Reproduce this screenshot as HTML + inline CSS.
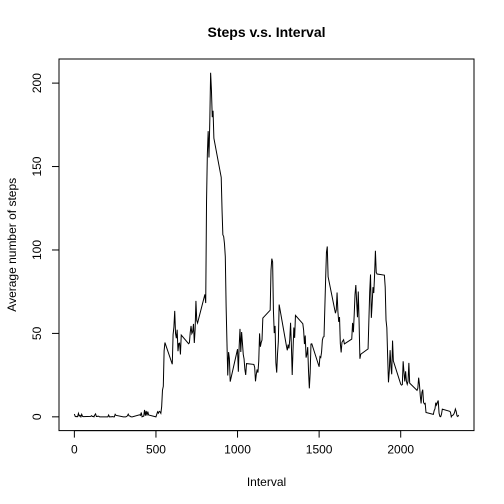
<!DOCTYPE html>
<html><head><meta charset="utf-8"><style>body{margin:0;background:#fff}svg{display:block;font-family:"Liberation Sans",Arial,sans-serif}</style></head>
<body>
<svg id="chart" width="504" height="504"></svg>
<script>
const xTicks=[0,500,1000,1500,2000];
const yTicks=[0,50,100,150,200];
const steps=[
1.7,0.3,0.1,0.2,0.1,2.1,0.5,0.9,0,1.5,0.3,0.1,
0.3,0.7,0.2,0.3,0,1.1,1.8,0.2,0.2,0.4,0.3,0,
0,0,1.1,0,0,0.1,0,0.2,0,0,1.5,0.9,
0,0,0,0,0.2,0.6,1.6,0.6,0.5,0.1,0,0,
1.2,0.9,2.6,0,0.3,0.4,4.1,0.7,3.5,0.8,3.1,1.1,
0,1.5,3,2.2,3.3,3,2.1,6.1,16,18.3,39.5,44.5,
31.5,49.3,53.8,63.5,50,47.1,52.2,39.3,44,44.2,37.4,49,
43.8,44.4,50.5,54.5,49.9,51,55.7,44.3,52.3,69.5,57.8,56.2,
73.4,68.2,129.4,157.5,171.2,155.4,177.3,206.2,195.9,179.6,183.4,167,
143.5,124,109.1,108.1,103.7,96,66.2,45.2,24.8,38.8,35,21.1,
40.6,27,42.4,52.7,38.9,50.8,44.3,37.4,34.7,28.3,25.1,31.9,
31.4,29.7,21.3,25.5,28.4,26.5,33.4,50,42,44.6,46,59.2,
63.9,87.7,94.8,92.8,63.4,50.2,54.5,32.4,26.5,37.7,45.1,67.3,
42.3,39.9,43.3,41,46.2,56.4,42.8,25.1,40,53.5,47.3,60.8,
55.8,52,43.6,48.7,35.5,37.5,41.8,27.5,17.1,26.1,43.6,43.8,
30,36.1,35.5,38.8,46,47.8,48.1,65.3,82.9,98.7,102.1,84,
62.1,64.1,74.5,63.2,56.9,59.8,43.9,38.6,44.7,45.5,46.2,43.7,
46.6,56.3,50.7,61.2,73.4,79,68.9,59.7,75.1,56.5,34.8,37.5,
40.7,58,74.7,85.3,59.3,67.8,77.7,74.2,85.3,99.5,86.6,85.6,
84.9,77.8,58,53.4,36.3,20.7,27.4,40,30.2,25.5,45.7,33.5,
19.6,19,19.3,33.3,26.8,21.2,27.3,21.3,19.5,21.3,32.3,20.2,
15.9,17.2,23.5,19.2,12.5,8,14.7,16.3,8.7,7.8,8.1,2.6,
1.5,3.7,4.8,8.5,7.1,8.7,9.8,2.2,0.3,0.1,1.6,4.6,
3.3,2.8,0,0.8,1,1.6,2.6,4.7,3.3,0.6,0.2,1.1];
const intervals=steps.map((_,i)=>Math.floor(i/12)*100+(i%12)*5);

const NS="http://www.w3.org/2000/svg";
const svg=document.getElementById('chart');
const L=59,R=474,T=59,B=430.6;
const x0=Math.min(...intervals),x1=Math.max(...intervals),y0=0,y1=Math.max(...steps);
const xmin=x0-(x1-x0)*0.04,xmax=x1+(x1-x0)*0.04,ymin=y0-(y1-y0)*0.04,ymax=y1+(y1-y0)*0.04;
const sx=v=>L+(v-xmin)/(xmax-xmin)*(R-L);
const sy=v=>B-(v-ymin)/(ymax-ymin)*(B-T);
function mk(tag,attrs,text){const e=document.createElementNS(NS,tag);for(const k in attrs)e.setAttribute(k,attrs[k]);if(text!==undefined)e.textContent=text;svg.appendChild(e);return e;}

let e=mk('rect',{x:L,y:T,width:R-L,height:B-T,fill:'none',stroke:'#000','stroke-width':1});



const d=intervals.map((v,i)=>(i?'L':'M')+sx(v).toFixed(2)+','+sy(steps[i]).toFixed(2)).join('');
e=mk('path',{d:d,fill:'none',stroke:'#000','stroke-width':1});



e=mk('line',{x1:sx(xTicks[0]),x2:sx(xTicks[xTicks.length-1]),y1:B,y2:B,stroke:'#000'});


xTicks.forEach(t=>{
  let a=mk('line',{x1:sx(t),x2:sx(t),y1:B,y2:B+7,stroke:'#000'});
  
  
  let b=mk('text',{x:sx(t),y:B+23,'text-anchor':'middle','font-size':12},String(t));
  
  
});
e=mk('line',{x1:L,x2:L,y1:sy(yTicks[0]),y2:sy(yTicks[yTicks.length-1]),stroke:'#000'});


yTicks.forEach(t=>{
  let a=mk('line',{x1:L-7,x2:L,y1:sy(t),y2:sy(t),stroke:'#000'});
  
  
  let b=mk('text',{x:0,y:0,transform:`translate(${L-18},${sy(t)}) rotate(-90)`,'text-anchor':'middle','font-size':12},String(t));
  
  
});
e=mk('text',{x:(L+R)/2,y:37,'text-anchor':'middle','font-size':14,'font-weight':'bold'},'Steps v.s. Interval');


e=mk('text',{x:(L+R)/2,y:486,'text-anchor':'middle','font-size':12},'Interval');


e=mk('text',{x:0,y:0,transform:`translate(16,${(T+B)/2}) rotate(-90)`,'text-anchor':'middle','font-size':12},'Average number of steps');


</script>
</body></html>
